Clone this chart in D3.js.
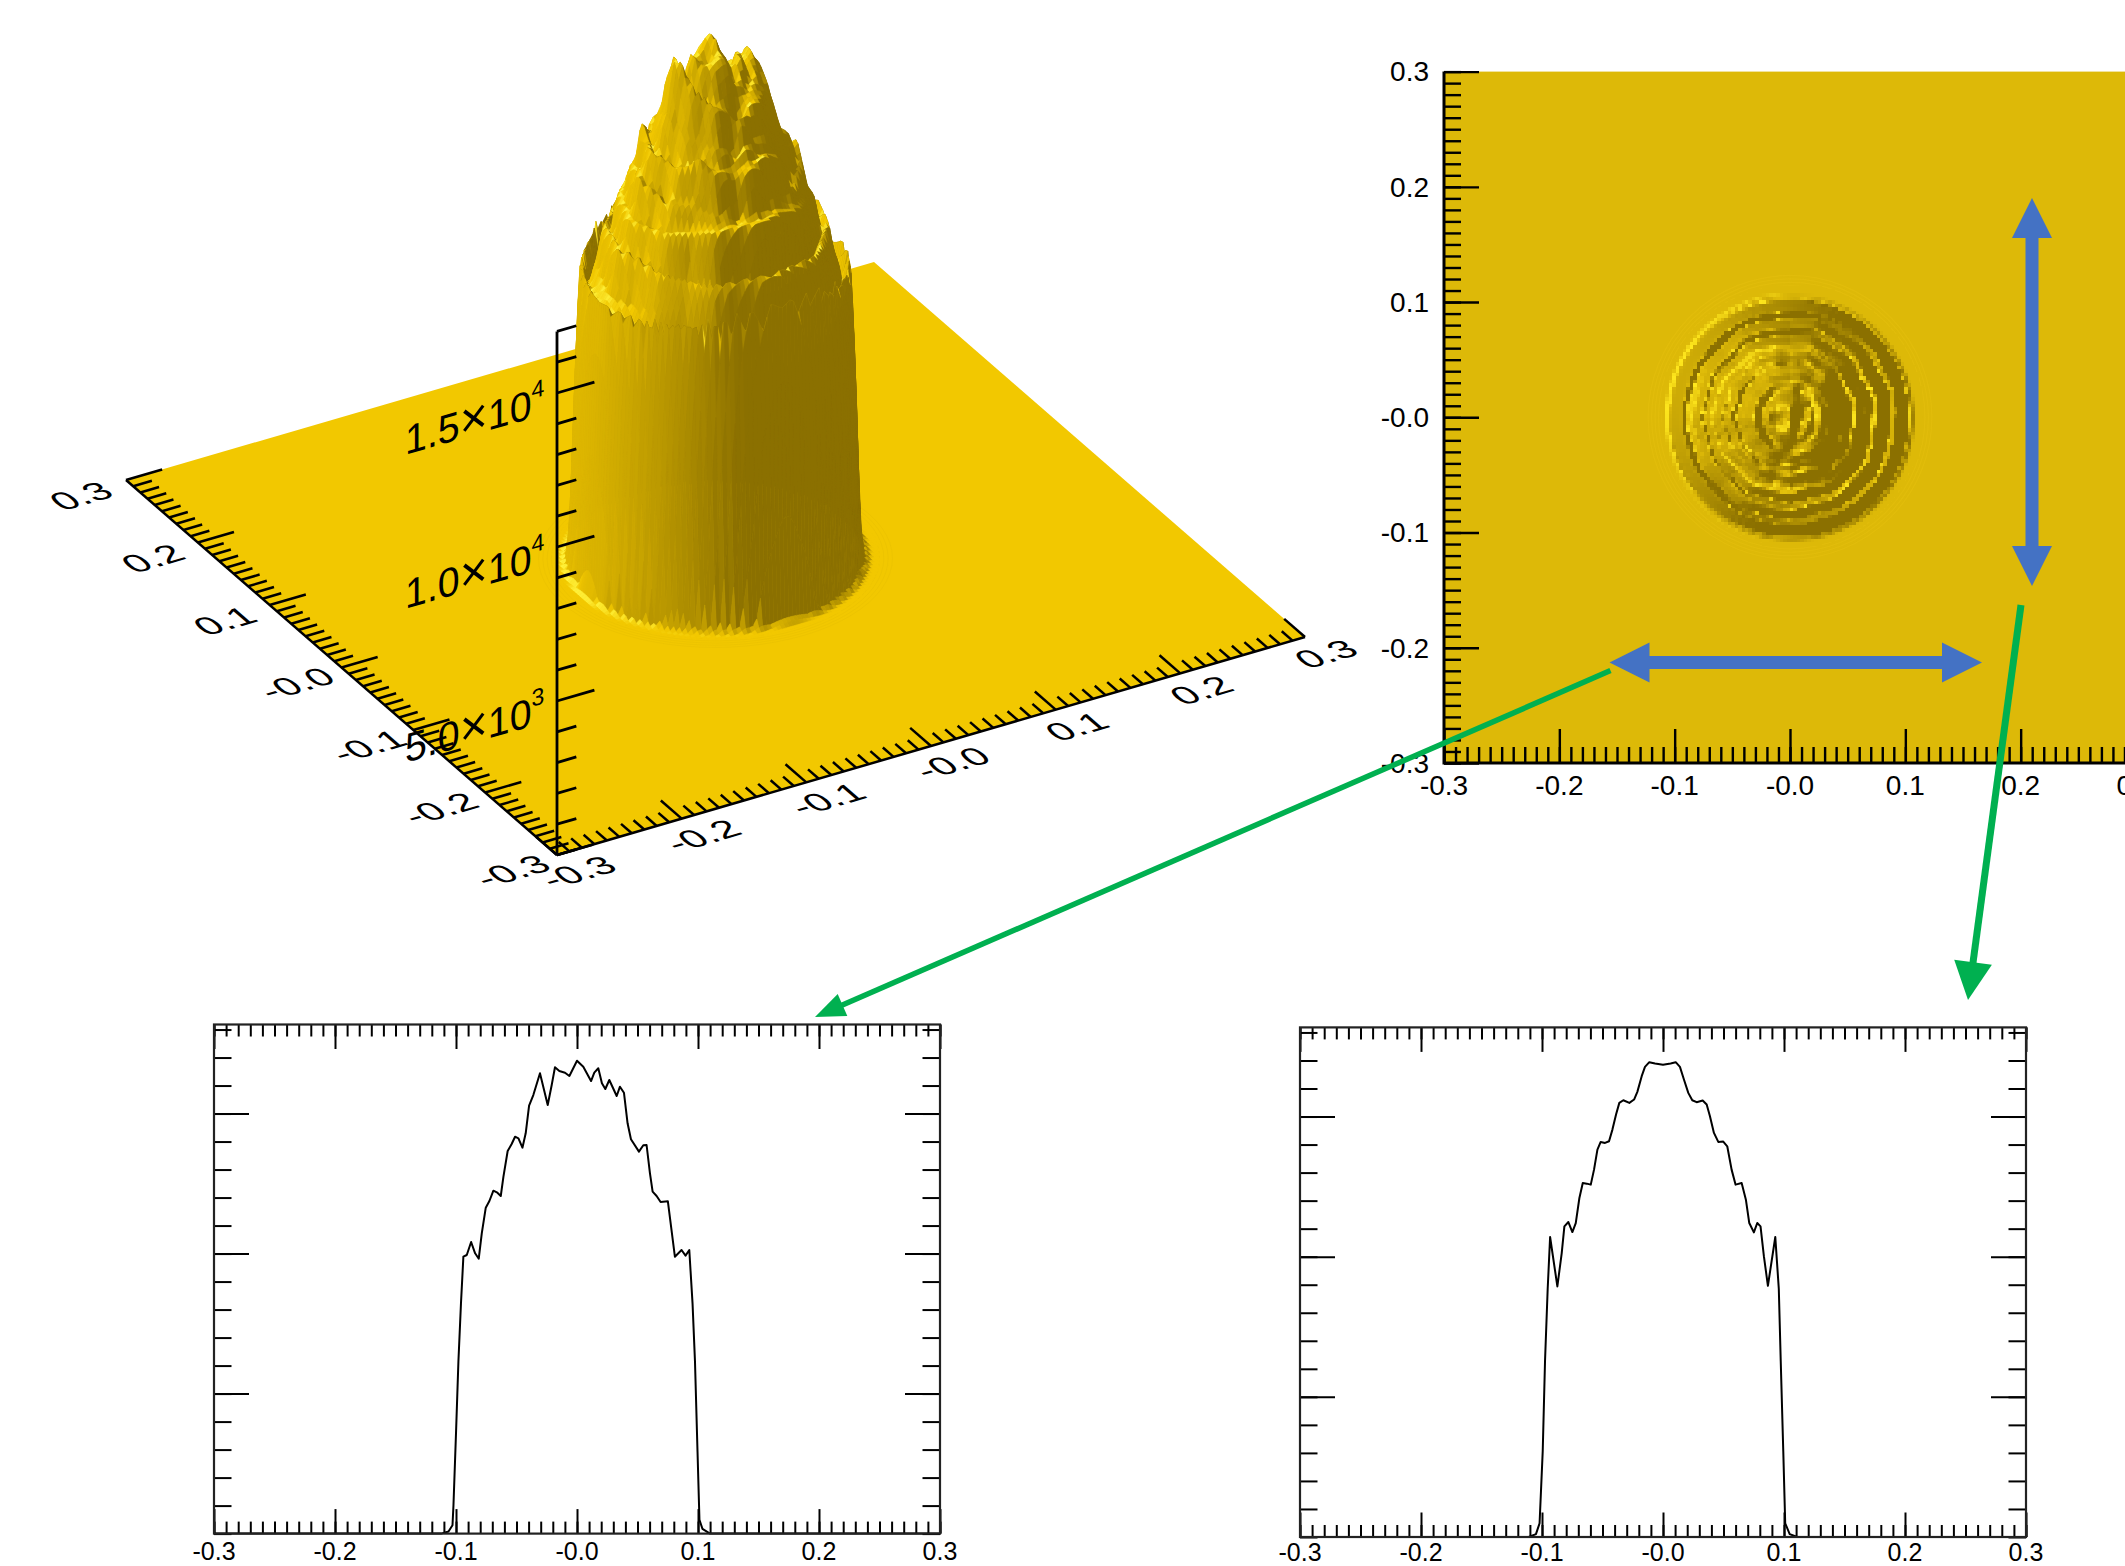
<!DOCTYPE html>
<html>
<head>
<meta charset="utf-8">
<script src="https://cdn.jsdelivr.net/npm/d3@7"></script>
<style>
html, body { margin: 0; padding: 0; background: #fff; overflow: hidden; }
svg { display: block; }
text { font-family: "Liberation Sans", Helvetica, Arial, sans-serif; fill: #000; }
</style>
</head>
<body>
<script>
//////////////////////////////////////////////////////////////////////////////
// Values

var tickValues = [-0.3, -0.2, -0.1, 0, 0.1, 0.2, 0.3];
var tickLabels = ["-0.3", "-0.2", "-0.1", "-0.0", "0.1", "0.2", "0.3"];
var minorValues = d3.range(-30, 31).map(function(d) { return d / 100; });

var zMajor = [5000, 10000, 15000];
var zMinor = d3.range(0, 17001, 1000);
var zBases = ["5.0", "1.0", "1.5"];
var zPowers = ["3", "4", "4"];
var yMajor = [5000, 10000, 15000];
var yMinor = d3.range(0, 18001, 1000);

// cut along the horizontal arrow
var profile1X = [-0.3, -0.1123, -0.1062, -0.1029, -0.1021, -0.1, -0.098, -0.0959, -0.0939, -0.0911, -0.0875, -0.0842,
    -0.0812, -0.0787, -0.0754, -0.0724, -0.0691, -0.0658, -0.063, -0.0608, -0.0573, -0.054, -0.0512, -0.0484,
    -0.0451, -0.0424, -0.0396, -0.0361, -0.0306, -0.0242, -0.0209, -0.0182, -0.0146, -0.0099, -0.0063, 0,
    0.0052, 0.0116, 0.0143, 0.0176, 0.0206, 0.0234, 0.0267, 0.0328, 0.0355, 0.0388, 0.0418, 0.0446, 0.0512,
    0.0548, 0.0575, 0.0603, 0.0625, 0.0658, 0.0691, 0.0751, 0.0809, 0.0864, 0.0897, 0.0928, 0.0955, 0.0975,
    0.0996, 0.1012, 0.1037, 0.1099, 0.3];
var profile1Y = [0, 0, 77, 296, 1004, 3578, 6152, 8211, 9889, 9949, 10413, 10009,
    9817, 10724, 11638, 11877, 12245, 12174, 12056, 12745, 13663, 13913, 14173, 14116,
    13781, 14296, 15281, 15662, 16438, 15305, 16020, 16652, 16519, 16459, 16341, 16888,
    16673, 16162, 16459, 16616, 16081, 15876, 16198, 15627, 15959, 15745, 14653, 14081, 13641,
    13867, 13877, 12867, 12213, 12056, 11841, 11867, 9889, 10127, 9928, 10127, 8211, 6152,
    2934, 489, 167, 0, 0];

// cut along the vertical arrow
var profile2X = [-0.3, -0.111, -0.105, -0.102, -0.0994, -0.0975, -0.0953, -0.0933, -0.0873, -0.0837, -0.0815, -0.0782,
    -0.0749, -0.0721, -0.0691, -0.0663, -0.063, -0.0597, -0.057, -0.0542, -0.0515, -0.0479, -0.0446, -0.0418,
    -0.0388, -0.0361, -0.0328, -0.0278, -0.0239, -0.0212, -0.0176, -0.0149, -0.0113, -0.0066, 0, 0.0063, 0.0105,
    0.014, 0.0173, 0.0209, 0.0242, 0.0278, 0.0328, 0.0361, 0.0388, 0.0421, 0.0457, 0.0498, 0.0531, 0.0567, 0.06,
    0.065, 0.0685, 0.0713, 0.0751, 0.0779, 0.0806, 0.0834, 0.0867, 0.0928, 0.0957, 0.0973, 0.0994, 0.101, 0.1047,
    0.111, 0.3];
var profile2Y = [0, 0, 103, 489, 3063, 6281, 8855, 10702, 8940, 10130, 11082, 11237,
    10879, 11201, 12094, 12629, 12606, 12570, 13106, 13820, 14094, 14058, 14118, 14534,
    15070, 15487, 15582, 15487, 15606, 15880, 16439, 16773, 16939, 16892, 16844, 16892, 16939,
    16773, 16320, 15844, 15582, 15511, 15570, 15427, 15011, 14415, 14094, 14106, 13939, 13106, 12570,
    12629, 12035, 11201, 10868, 11201, 11082, 10011, 8963, 10702, 8855, 6281, 3063, 489, 103,
    0, 0];

// faint rings outside the column, radius in axis units
var rippleRadii = [0.108, 0.111, 0.114, 0.117, 0.12, 0.123];

// how far the terraces wander in or out, every 15 degrees
var warpValues = [0.0015, -0.001, 0.002, -0.0015, 0.001, -0.002, 0.0015, 0.0005, -0.0015, 0.002, -0.001, 0.001,
    -0.002, 0.0015, -0.0005, 0.002, -0.0015, 0.001, -0.001, 0.002, -0.0015, 0.0005, -0.002, 0.001, 0.0015];

// dark grooves seen in the map
var grooveR = [0.088, 0.072, 0.055, 0.038, 0.104];
var grooveZ = [-800, -760, -680, -560, 130];
var grooveW = [0.0034, 0.0032, 0.003, 0.0028, 0.0016];

// lumps and the S shaped dip in the middle of the map
var bumpX = [0, -0.029, 0.029, 0.01, 0.012, 0.007, 0.002, -0.006,
    -0.045, -0.03, -0.012, 0.012, 0.03, 0.046, 0.05, 0.034, 0.014, -0.012, -0.034, -0.05, -0.058, 0.06];
var bumpY = [0.006, 0, 0, 0.022, 0.006, -0.012, -0.028, -0.036,
    0.024, 0.038, 0.05, 0.048, 0.036, 0.022, -0.018, -0.038, -0.05, -0.05, -0.036, -0.018, 0.006, 0.006];
var bumpZ = [350, 650, 520, -800, -1000, -900, -700, -500,
    420, -380, 520, -340, 480, -360, 420, -400, 360, -320, 380, -300, 320, -340];
var bumpW = [0.006, 0.011, 0.011, 0.005, 0.005, 0.005, 0.005, 0.005,
    0.006, 0.006, 0.006, 0.006, 0.006, 0.006, 0.006, 0.006, 0.006, 0.006, 0.006, 0.006, 0.006, 0.006];

//////////////////////////////////////////////////////////////////////////////
// Preliminaries

var width = 2125, height = 1566;
var svg = d3.select("body").append("svg").attr("width", width).attr("height", height);

var cut1 = d3.scaleLinear().domain(profile1X).range(profile1Y).clamp(true);
var cut2 = d3.scaleLinear().domain(profile2X).range(profile2Y).clamp(true);
var warp = d3.scaleLinear().domain(warpValues.map(function(d, i) { return i * 15; })).range(warpValues);
var tailCut = 350;

// surface rebuilt from the two cuts, weighted by direction
function surfaceZ(x, y) {
    var r = Math.sqrt(x * x + y * y);
    if (r == 0) return (cut1(0) + cut2(0)) / 2;
    var c = x / r, s = y / r;
    var deg = (Math.atan2(y, x) * 180 / Math.PI + 360) % 360;
    var fade = Math.min(1, r / 0.05) * Math.max(0, Math.min(1, (0.096 - r) / 0.008));
    var re = r + warp(deg) * fade;
    var z = c * c * cut1(x < 0 ? -re : re) + s * s * cut2(y < 0 ? -re : re);
    z = Math.max(0, z - tailCut);
    grooveR.forEach(function(g, i) {
        var d = (re - g) / grooveW[i];
        z += grooveZ[i] * Math.exp(-d * d);
    });
    if (r < 0.095) {
        bumpX.forEach(function(b, i) {
            var dx = x - b, dy = y - bumpY[i], w = bumpW[i];
            z += bumpZ[i] * Math.exp(-(dx * dx + dy * dy) / (w * w));
        });
    }
    return Math.max(0, z);
}

var step = 0.003, half = 0.114;
var gridValues = d3.range(-38, 38).map(function(d) { return d * step; });

var light = [-0.58, 0.21, 0.787];
var zPerPixel = 1000 / 30.8;

function shadeAt(x, y) {
    var s = step * 1000;
    var z00 = surfaceZ(x, y) / zPerPixel, z10 = surfaceZ(x + step, y) / zPerPixel;
    var z01 = surfaceZ(x, y + step) / zPerPixel, z11 = surfaceZ(x + step, y + step) / zPerPixel;
    var zx = ((z10 - z00) + (z11 - z01)) / (2 * s);
    var zy = ((z01 - z00) + (z11 - z10)) / (2 * s);
    var n = Math.sqrt(zx * zx + zy * zy + 1);
    return (-zx * light[0] - zy * light[1] + light[2]) / n;
}

function cells() {
    var out = [];
    gridValues.forEach(function(x) {
        gridValues.forEach(function(y) {
            if (Math.sqrt(x * x + y * y) < half) out.push({x: x, y: y, t: shadeAt(x, y)});
        });
    });
    return out;
}
var surfaceCells = cells();

//////////////////////////////////////////////////////////////////////////////
// 3D surface, top left

var sx = d3.scaleLinear().domain([-0.3, 0.3]).range([0, 748]);
var sxDown = d3.scaleLinear().domain([-0.3, 0.3]).range([0, -218]);
var syLeft = d3.scaleLinear().domain([-0.3, 0.3]).range([0, -431]);
var syDown = d3.scaleLinear().domain([-0.3, 0.3]).range([0, -375]);
var sz = d3.scaleLinear().domain([0, 15000]).range([0, -462]);
var origin3d = [557, 855];

function project(x, y, z) {
    return [origin3d[0] + sx(x) + syLeft(y), origin3d[1] + sxDown(x) + syDown(y) + sz(z)];
}

var shade3d = d3.scaleLinear().domain([0, 0.787, 1]).range(["#8b7000", "#f2c800", "#fff23c"]).clamp(true);

var g3d = svg.append("g");
g3d.append("path")
    .attr("d", d3.line()([project(-0.3, -0.3, 0), project(0.3, -0.3, 0), project(0.3, 0.3, 0), project(-0.3, 0.3, 0)]) + "Z")
    .attr("fill", "#f2c800");

g3d.selectAll("path.ripple")
    .data(rippleRadii)
    .enter().append("path")
    .attr("class", "ripple")
    .attr("fill", "none")
    .attr("stroke", "#e8bf00")
    .attr("stroke-opacity", 0.5)
    .attr("stroke-width", 1)
    .attr("d", function(r) {
        return d3.line()(d3.range(0, 73).map(function(i) {
            var a = i * Math.PI / 36;
            return project(r * Math.cos(a), r * Math.sin(a), 0);
        }));
    });

// painter's order, far corner first
var sorted3d = surfaceCells.slice().sort(function(a, b) {
    return d3.descending(a.x, b.x) || d3.descending(a.y, b.y);
});
g3d.selectAll("path.cell")
    .data(sorted3d)
    .enter().append("path")
    .attr("class", "cell")
    .attr("d", function(d) {
        var x = d.x, y = d.y;
        return d3.line()([
            project(x, y, surfaceZ(x, y)),
            project(x + step, y, surfaceZ(x + step, y)),
            project(x + step, y + step, surfaceZ(x + step, y + step)),
            project(x, y + step, surfaceZ(x, y + step))
        ]) + "Z";
    })
    .attr("fill", function(d) { return shade3d(d.t); })
    .attr("stroke", function(d) { return shade3d(d.t); })
    .attr("stroke-width", 0.6);

var ink = g3d.append("g").attr("stroke", "#000").attr("fill", "none").attr("stroke-linecap", "butt");

function seg(a, b, w) {
    ink.append("path").attr("d", d3.line()([a, b])).attr("stroke-width", w);
}

// base axes
seg(project(-0.3, -0.3, 0), project(-0.3, 0.3, 0), 2.5);
seg(project(-0.3, -0.3, 0), project(0.3, -0.3, 0), 2.5);
minorValues.forEach(function(v) {
    var major = tickValues.some(function(t) { return Math.abs(t - v) < 1e-6; });
    var len = major ? 0.029 : 0.015;
    seg(project(-0.3, v, 0), project(-0.3 + len, v, 0), 2.5);
    seg(project(v, -0.3, 0), project(v, -0.3 + len, 0), 2.5);
});

// vertical axis
seg(project(-0.3, -0.3, 0), project(-0.3, -0.3, 17000), 2.8);
zMinor.forEach(function(v) {
    var len = zMajor.indexOf(v) >= 0 ? 0.03 : 0.0155;
    seg(project(-0.3, -0.3, v), project(-0.3 + len, -0.3, v), 2.8);
});

// labels lie in the plane of the surface
function planeMatrix(p) {
    return "matrix(0.96,-0.28,0.62,0.54," + p[0] + "," + p[1] + ")";
}
tickValues.forEach(function(v, i) {
    var a = project(-0.3, v, 0);
    g3d.append("text").text(tickLabels[i])
        .attr("transform", planeMatrix([a[0] - 45, a[1] + 16]))
        .attr("text-anchor", "middle").attr("dy", "0.35em").attr("font-size", 40);
    var b = project(v, -0.3, 0);
    g3d.append("text").text(tickLabels[i])
        .attr("transform", planeMatrix([b[0] + 21, b[1] + 17]))
        .attr("text-anchor", "middle").attr("dy", "0.35em").attr("font-size", 40);
});

zMajor.forEach(function(v, i) {
    var a = project(-0.3, -0.3, v);
    var t = g3d.append("text")
        .attr("transform", "matrix(0.96,-0.28,0,1," + (a[0] - 152) + "," + (a[1] + 62) + ")")
        .attr("font-size", 41);
    t.append("tspan").text(zBases[i]);
    t.append("tspan").text("\u00d7").attr("font-size", 50);
    t.append("tspan").text("10");
    t.append("tspan").text(zPowers[i]).attr("font-size", 24).attr("dy", -19);
});

//////////////////////////////////////////////////////////////////////////////
// Shaded map, top right

var xMap = d3.scaleLinear().domain([-0.3, 0.3]).range([1444, 2136]);
var yMap = d3.scaleLinear().domain([-0.3, 0.3]).range([763, 71.6]);
var shadeMap = d3.scaleLinear().domain([0, 0.787, 1]).range(["#8b7000", "#ddb908", "#ffe81e"]).clamp(true);

var gMap = svg.append("g");
gMap.append("rect")
    .attr("x", xMap(-0.3)).attr("y", yMap(0.3))
    .attr("width", xMap(0.3) - xMap(-0.3)).attr("height", yMap(-0.3) - yMap(0.3))
    .attr("fill", "#ddb908");

gMap.selectAll("circle")
    .data(rippleRadii)
    .enter().append("circle")
    .attr("cx", xMap(0)).attr("cy", yMap(0))
    .attr("r", function(r) { return xMap(r) - xMap(0); })
    .attr("fill", "none").attr("stroke", "#e6c210").attr("stroke-opacity", 0.45).attr("stroke-width", 1.2);

gMap.selectAll("rect.cell")
    .data(surfaceCells)
    .enter().append("rect")
    .attr("class", "cell")
    .attr("x", function(d) { return xMap(d.x); })
    .attr("y", function(d) { return yMap(d.y + step); })
    .attr("width", xMap(step) - xMap(0) + 0.5)
    .attr("height", yMap(0) - yMap(step) + 0.5)
    .attr("shape-rendering", "crispEdges")
    .attr("fill", function(d) { return shadeMap(d.t); });

function labelFormat(d) {
    var i = tickValues.findIndex(function(t) { return Math.abs(t - d) < 1e-6; });
    return i >= 0 ? tickLabels[i] : "";
}

function drawAxis(g, axis, w) {
    g.call(axis);
    g.select(".domain").remove();
    g.selectAll("line").attr("stroke", "#000").attr("stroke-width", w);
    g.selectAll("text").remove();
}

drawAxis(gMap.append("g").attr("transform", "translate(0,763)"),
    d3.axisTop(xMap).tickValues(minorValues).tickSize(16), 2.4);
drawAxis(gMap.append("g").attr("transform", "translate(0,763)"),
    d3.axisTop(xMap).tickValues(tickValues).tickSize(34), 2.4);
drawAxis(gMap.append("g").attr("transform", "translate(1444,0)"),
    d3.axisRight(yMap).tickValues(minorValues).tickSize(17), 2.4);
drawAxis(gMap.append("g").attr("transform", "translate(1444,0)"),
    d3.axisRight(yMap).tickValues(tickValues).tickSize(35), 2.4);

gMap.append("path")
    .attr("d", d3.line()([[xMap(-0.3), yMap(0.3)], [xMap(-0.3), yMap(-0.3)], [xMap(0.3), yMap(-0.3)]]))
    .attr("fill", "none").attr("stroke", "#000").attr("stroke-width", 3);

gMap.selectAll("text.xl").data(tickValues).enter().append("text")
    .attr("class", "xl")
    .attr("x", function(d) { return xMap(d); }).attr("y", 785)
    .attr("dy", "0.35em").attr("text-anchor", "middle").attr("font-size", 28)
    .text(labelFormat);
gMap.selectAll("text.yl").data(tickValues).enter().append("text")
    .attr("class", "yl")
    .attr("x", 1429).attr("y", function(d) { return yMap(d); })
    .attr("dy", "0.35em").attr("text-anchor", "end").attr("font-size", 28)
    .text(labelFormat);

//////////////////////////////////////////////////////////////////////////////
// The two line plots

function drawProfile(left, right, top, bottom, xs, ys, labelY) {
    var x = d3.scaleLinear().domain([-0.3, 0.3]).range([left, right]);
    var y = d3.scaleLinear().domain([0, 18180]).range([bottom, top]);
    var g = svg.append("g");

    g.append("path")
        .datum(d3.zip(xs, ys))
        .attr("fill", "none").attr("stroke", "#000").attr("stroke-width", 2)
        .attr("stroke-linejoin", "round")
        .attr("d", d3.line().x(function(d) { return x(d[0]); }).y(function(d) { return y(d[1]); }));

    var sides = [
        [d3.axisTop, bottom, true], [d3.axisBottom, top, true],
        [d3.axisRight, left, false], [d3.axisLeft, right, false]
    ];
    sides.forEach(function(s) {
        var shift = s[2] ? "translate(0," + s[1] + ")" : "translate(" + s[1] + ",0)";
        var scale = s[2] ? x : y;
        drawAxis(g.append("g").attr("transform", shift),
            s[0](scale).tickValues(s[2] ? minorValues : yMinor).tickSize(s[2] ? 12 : 17.5), 2);
        drawAxis(g.append("g").attr("transform", shift),
            s[0](scale).tickValues(s[2] ? tickValues : yMajor).tickSize(s[2] ? 24.5 : 35), 2);
    });

    g.append("rect")
        .attr("x", left).attr("y", top)
        .attr("width", right - left).attr("height", bottom - top)
        .attr("fill", "none").attr("stroke", "#222").attr("stroke-width", 2.2);

    g.selectAll("text.xl").data(tickValues).enter().append("text")
        .attr("class", "xl")
        .attr("x", function(d) { return x(d); }).attr("y", labelY)
        .attr("dy", "0.35em").attr("text-anchor", "middle").attr("font-size", 25)
        .text(labelFormat);
}

drawProfile(214, 940, 1024.5, 1533.6, profile1X, profile1Y, 1551);
drawProfile(1300, 2026, 1027.4, 1537, profile2X, profile2Y, 1552);

//////////////////////////////////////////////////////////////////////////////
// Annotation arrows

function doubleArrow(x1, y1, x2, y2) {
    var a = Math.atan2(y2 - y1, x2 - x1) * 180 / Math.PI;
    var len = Math.hypot(x2 - x1, y2 - y1);
    var g = svg.append("g").attr("transform", "translate(" + x1 + "," + y1 + ") rotate(" + a + ")").attr("fill", "#4472c4");
    g.append("rect").attr("x", 30).attr("y", -6.5).attr("width", len - 60).attr("height", 13);
    g.append("path").attr("d", "M0,0L40,-20L40,20Z");
    g.append("path").attr("d", "M" + len + ",0L" + (len - 40) + ",-20L" + (len - 40) + ",20Z");
}
doubleArrow(1609.5, 662.5, 1982, 662.5);
doubleArrow(2032, 198, 2032, 586);

function greenArrow(x1, y1, x2, y2, headLen, headWid, w) {
    var a = Math.atan2(y2 - y1, x2 - x1) * 180 / Math.PI;
    var len = Math.hypot(x2 - x1, y2 - y1);
    var g = svg.append("g").attr("transform", "translate(" + x1 + "," + y1 + ") rotate(" + a + ")");
    g.append("line").attr("x1", 0).attr("y1", 0).attr("x2", len - headLen + 2).attr("y2", 0)
        .attr("stroke", "#00b050").attr("stroke-width", w);
    g.append("path").attr("fill", "#00b050")
        .attr("d", "M" + len + ",0L" + (len - headLen) + "," + (-headWid / 2) + "L" + (len - headLen) + "," + (headWid / 2) + "Z");
}
greenArrow(1610.5, 670.6, 815, 1017, 30, 24, 5.5);
greenArrow(2021, 605, 1968, 1000, 38, 38, 7);
</script>
</body>
</html>
